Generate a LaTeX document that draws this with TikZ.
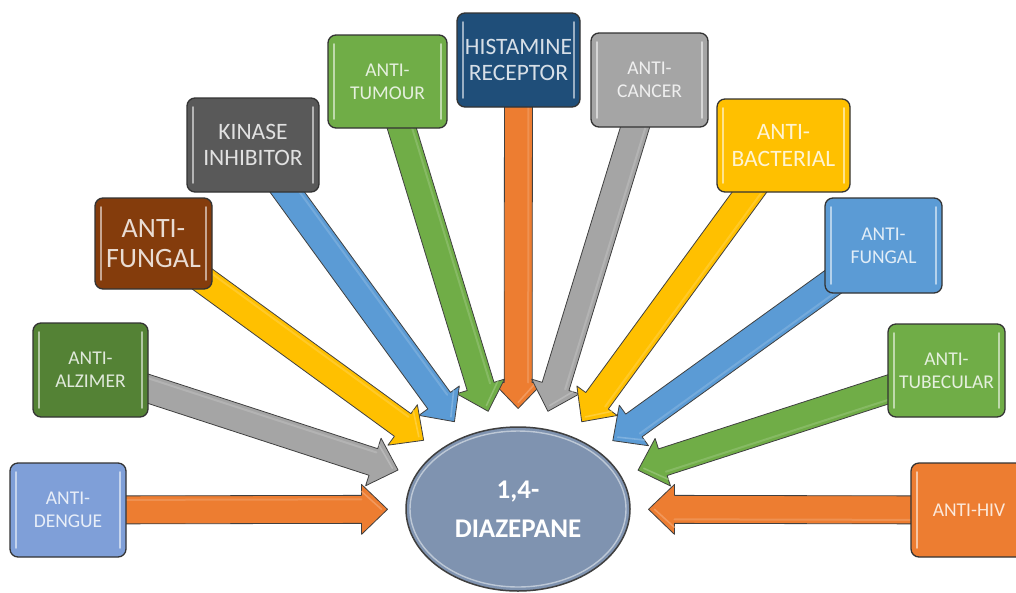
\documentclass[tikz,border=0pt]{standalone}
\usepackage{fontspec}
\setmainfont{Carlito}
\usetikzlibrary{calc,shapes.geometric}
\pgfdeclarelayer{bottom}
\pgfdeclarelayer{arrows}
\pgfsetlayers{bottom,arrows,main}

\definecolor{cDengue}{HTML}{7F9FD8}
\definecolor{cAlz}{HTML}{548235}
\definecolor{cBrown}{HTML}{843C0C}
\definecolor{cKinase}{HTML}{595959}
\definecolor{cGreen}{HTML}{70AD47}
\definecolor{cNavy}{HTML}{1F4E79}
\definecolor{cGray}{HTML}{A5A5A5}
\definecolor{cGold}{HTML}{FFC000}
\definecolor{cBlue}{HTML}{5B9BD5}
\definecolor{cOrange}{HTML}{ED7D31}
\definecolor{cEll}{HTML}{7F93B0}

\tikzset{
  box/.style={draw=black!80, line width=1.3pt, rounded corners=8pt, fill=#1,
    text=white!82!#1, align=center, inner sep=0pt, outer sep=0pt,
    path picture={
      \draw[white!55!#1, line width=1.8pt, line cap=round]
        ([xshift=6pt,yshift=-9pt]path picture bounding box.north west) --
        ([xshift=6pt,yshift=9pt]path picture bounding box.south west);
      \draw[white!55!#1, line width=1.8pt, line cap=round]
        ([xshift=-6pt,yshift=-9pt]path picture bounding box.north east) --
        ([xshift=-6pt,yshift=9pt]path picture bounding box.south east);
    }},
  smalltxt/.style={font=\fontsize{19.5}{23}\selectfont},
  midtxt/.style={font=\fontsize{23.5}{26.5}\selectfont},
  bigtxt/.style={font=\fontsize{28}{30}\selectfont},
  arrowbody/.style={draw=black!75, line width=0.8pt, line join=round},
  hub/.style={ellipse, draw=black!75, line width=1.5pt, fill=cEll,
    inner sep=0pt, outer sep=0pt, text=white, align=center,
    font=\bfseries\fontsize{27}{39}\selectfont,
    path picture={
      \draw[white!70!cEll, line width=1.4pt, opacity=0.7]
        (path picture bounding box.center) ellipse (108pt and 78pt);
    }},
}

% block arrow from the centre of box #2 towards hub E, in colour #1
\newcommand\blockarr[2]{%
  \path (#2.center) -- (E) coordinate[pos=1] (Bd);
  \coordinate (T) at ($(Bd)!-18.5pt!(E.center)$);
  \coordinate (H) at ($(T)!26pt!(#2.center)$);
  \filldraw[arrowbody, fill=#1]
    ($(#2.center)!14pt!90:(T)$) -- ($(H)!14pt!90:(T)$) --
    ($(H)!25pt!90:(T)$) -- (T) -- ($(H)!25pt!-90:(T)$) --
    ($(H)!14pt!-90:(T)$) -- ($(#2.center)!14pt!-90:(T)$) -- cycle;
  \draw[white!35!#1, line width=2pt, line cap=round, opacity=0.45]
    ($(#2.center)!10pt!90:(T)$) -- ($(H)!10pt!90:(T)$);
  \draw[white!30!#1, line width=1.6pt, line cap=round, opacity=0.7]
    ($(H)!18pt!90:(T)$) -- ($(T)!6pt!(H)$);
}

\begin{document}
\begin{tikzpicture}[x=1pt, y=-1pt]
\useasboundingbox (0,0) rectangle (1016,592);
\begin{pgfonlayer}{bottom}
  \fill[white] (0,0) rectangle (1016,592);
\end{pgfonlayer}
\clip (0,0) rectangle (1016,592);

\node[hub, minimum width=224pt, minimum height=164pt] (E) at (518,509) {1,4-\\DIAZEPANE};

\node[box=cDengue, smalltxt, minimum width=116pt, minimum height=94pt] (dengue) at (68,510) {ANTI-\\DENGUE};
\node[box=cAlz, smalltxt, minimum width=115pt, minimum height=94pt] (alz) at (90.5,370) {ANTI-\\ALZIMER};
\node[box=cBrown, bigtxt, minimum width=117pt, minimum height=91pt] (fungA) at (153.5,243.5) {ANTI-\\FUNGAL};
\node[box=cKinase, midtxt, minimum width=132pt, minimum height=94pt] (kinase) at (253,145) {KINASE\\INHIBITOR};
\node[box=cGreen, smalltxt, minimum width=119pt, minimum height=93pt] (tumour) at (387.5,81.5) {ANTI-\\TUMOUR};
\node[box=cNavy, midtxt, minimum width=123pt, minimum height=94pt] (hist) at (518.5,60) {HISTAMINE\\RECEPTOR};
\node[box=cGray, smalltxt, minimum width=117pt, minimum height=94pt] (cancer) at (649.5,80) {ANTI-\\CANCER};
\node[box=cGold, midtxt, minimum width=133pt, minimum height=93pt] (bact) at (783.5,145.5) {ANTI-\\BACTERIAL};
\node[box=cBlue, smalltxt, minimum width=117pt, minimum height=95pt] (fungB) at (883.5,245.5) {ANTI-\\FUNGAL};
\node[box=cGreen, smalltxt, minimum width=117pt, minimum height=93pt] (tub) at (946.5,370.5) {ANTI-\\TUBECULAR};
\node[box=cOrange, smalltxt, minimum width=116pt, minimum height=94pt] (hiv) at (969,510) {ANTI-HIV};

\begin{pgfonlayer}{arrows}
  \blockarr{cOrange}{hist}
  \blockarr{cGray}{cancer}
  \blockarr{cGreen}{tumour}
  \blockarr{cGold}{bact}
  \blockarr{cBlue}{kinase}
  \blockarr{cBlue}{fungB}
  \blockarr{cGold}{fungA}
  \blockarr{cGreen}{tub}
  \blockarr{cGray}{alz}
  \blockarr{cOrange}{hiv}
  \blockarr{cOrange}{dengue}
\end{pgfonlayer}
\end{tikzpicture}
\end{document}
